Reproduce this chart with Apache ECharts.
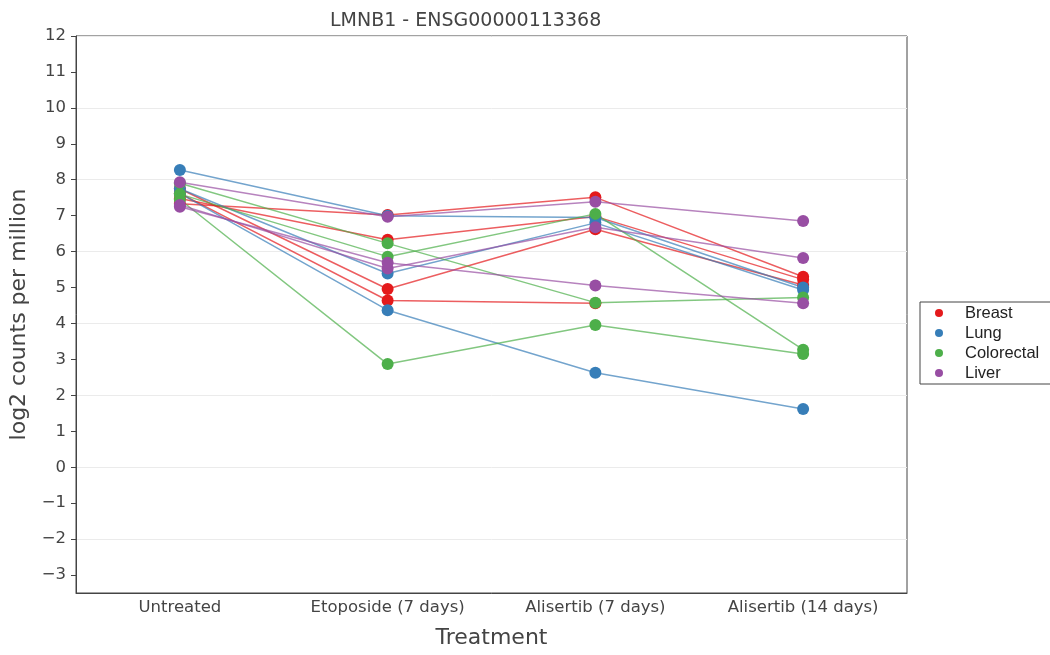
<!DOCTYPE html>
<html>
<head>
<meta charset="utf-8">
<script src="https://cdn.jsdelivr.net/npm/echarts@6/dist/echarts.min.js"></script>
<style>html,body{margin:0;padding:0;background:#fff}#c{width:1050px;height:655px}</style>
</head>
<body>
<div id="c"></div>
<script>
const categories = ['Untreated', 'Etoposide (7 days)', 'Alisertib (7 days)', 'Alisertib (14 days)'];
const groups = ['Breast', 'Lung', 'Colorectal', 'Liver'];
const colors = ['#e41a1c', '#377eb8', '#4daf4a', '#984ea3'];
const breast = [
  [7.33, 7.02, 7.51, 5.30],
  [7.48, 6.33, 6.98, 5.22],
  [7.75, 4.96, 6.62, 5.07],
  [7.62, 4.64, 4.56, null]
];
const lung = [
  [8.27, 7.00, 6.95, 5.00],
  [7.75, 5.39, 6.80, 4.93],
  [7.62, 4.37, 2.63, 1.62]
];
const colorectal = [
  [7.90, 6.23, 4.58, 4.72],
  [7.60, 5.86, 7.05, 3.27],
  [7.45, 2.87, 3.96, 3.15]
];
const liver = [
  [7.93, 6.97, 7.39, 6.85],
  [7.30, 5.53, 6.68, 5.82],
  [7.25, 5.69, 5.06, 4.56]
];
const yTicks = [-3, -2, -1, 0, 1, 2, 3, 4, 5, 6, 7, 8, 9, 10, 11, 12];

const groupData = [breast, lung, colorectal, liver];
const series = [];
groupData.forEach((lines, gi) => {
  lines.forEach(vals => {
    series.push({
      type: 'line',
      name: groups[gi],
      data: vals,
      symbol: 'circle',
      symbolSize: 12,
      itemStyle: { color: colors[gi], opacity: 1 },
      lineStyle: { color: colors[gi], width: 1.5, opacity: 0.7 },
      emphasis: { disabled: true },
      connectNulls: false
    });
  });
});

const fontFam = '"DejaVu Sans", Verdana, sans-serif';
const chart = echarts.init(document.getElementById('c'), null, { renderer: 'canvas' });
chart.setOption({
  animation: false,
  backgroundColor: '#fff',
  color: colors,
  title: {
    text: 'LMNB1 - ENSG00000113368',
    left: 325, top: 7,
    textStyle: { fontFamily: fontFam, fontSize: 19, fontWeight: 'normal', color: '#444' }
  },
  legend: {
    data: groups,
    orient: 'vertical',
    left: 920, top: 302,
    padding: [1, 12, 1, 15],
    itemWidth: 8, itemHeight: 8, itemGap: 0,
    icon: 'circle',
    borderColor: '#444', borderWidth: 1,
    textStyle: { fontFamily: '"Liberation Sans", Arial, sans-serif', fontSize: 16.5, color: '#222', lineHeight: 20, padding: [0, 0, 0, 17] }
  },
  grid: {
    left: 76, top: 36, right: 143, bottom: 62,
    show: true, borderColor: '#444', borderWidth: 1, backgroundColor: 'transparent'
  },
  xAxis: {
    type: 'category',
    data: categories,
    boundaryGap: true,
    name: 'Treatment',
    nameLocation: 'middle',
    nameGap: 34,
    nameTextStyle: { fontFamily: fontFam, fontSize: 22, color: '#444' },
    axisLine: { onZero: false, lineStyle: { color: '#444' } },
    axisTick: { show: false },
    axisLabel: { fontFamily: fontFam, fontSize: 16.5, color: '#444', margin: 6 },
    splitLine: { show: false }
  },
  yAxis: {
    type: 'value',
    min: -3.5, max: 12, interval: 0.5,
    name: 'log2 counts per million',
    nameLocation: 'middle',
    nameGap: 43,
    nameTextStyle: { fontFamily: fontFam, fontSize: 22, color: '#444' },
    axisLine: { show: true, onZero: false, lineStyle: { color: '#444' } },
    axisTick: { show: true, length: 5, lineStyle: { color: '#444' }, customValues: yTicks },
    axisLabel: {
      fontFamily: fontFam, fontSize: 16.5, color: '#444', margin: 10,
      customValues: yTicks,
      formatter: v => (Number.isInteger(v) ? (v < 0 ? '\u2212' + (-v) : String(v)) : '')
    },
    splitLine: { show: true, lineStyle: { color: ['transparent', '#ebebeb'], width: 1 } }
  },
  series: series
});
</script>
</body>
</html>
